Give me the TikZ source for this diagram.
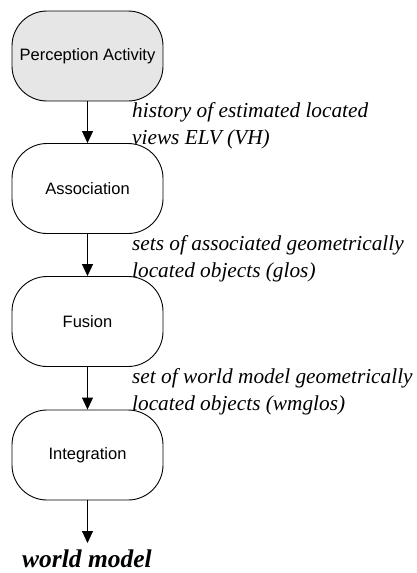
\documentclass[tikz,border=0pt]{standalone}
\usepackage{fontspec}
\setmainfont{Liberation Serif}
\setsansfont{Liberation Sans}
\usetikzlibrary{arrows.meta}
\definecolor{stagegray}{RGB}{230,230,230}
\begin{document}
\begin{tikzpicture}[x=1pt,y=1pt,
  stagebox/.style={draw=black, line width=0.9pt, rounded corners=35pt,
    minimum width=151pt, minimum height=90pt, inner sep=0pt,
    font=\sffamily\fontsize{16.5}{19}\selectfont},
  flow/.style={draw=black, line width=0.9pt, -{Triangle[width=11pt,length=12pt]}},
  datalabel/.style={anchor=north west, inner sep=0pt, align=left,
    font=\itshape\fontsize{21.3}{27}\selectfont}]
  \useasboundingbox (0,0) rectangle (417,-573);

  % processing stages
  \node[stagebox, fill=stagegray] (perc) at (87.5,-56) {Perception Activity};
  \node[stagebox] (assoc) at (87.5,-188.5) {Association};
  \node[stagebox] (fusion) at (87.5,-321.5) {Fusion};
  \node[stagebox] (integ) at (87.5,-455) {Integration};

  % result of the chain
  \node[inner sep=0pt, font=\bfseries\itshape\fontsize{25.5}{30}\selectfont]
    (wm) at (87,-559) {world model};
  \coordinate (wmtip) at (87.5,-543);

  % data flowing between stages
  \draw[flow] (perc) -- (assoc);
  \draw[flow] (assoc) -- (fusion);
  \draw[flow] (fusion) -- (integ);
  \draw[flow] (integ) -- (wmtip);

  % labels on the flows
  \node[datalabel] (l1) at (132,-102.5) {history of estimated located\\views ELV (VH)};
  \node[datalabel] (l2) at (132,-235.5) {sets of associated geometrically\\located objects (glos)};
  \node[datalabel] (l3) at (132,-368.5) {set of world model geometrically\\located objects (wmglos)};
\end{tikzpicture}
\end{document}
